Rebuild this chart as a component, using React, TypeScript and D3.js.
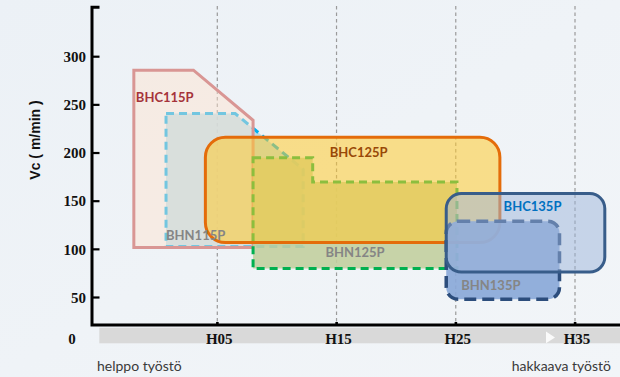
import React from 'react';
import * as d3 from 'd3';

const W = 620;
const H = 377;

// Axis ticks
const xTickValues = [5, 15, 25, 35];
const xTickLabels = ['H05', 'H15', 'H25', 'H35'];
const yTickValues = [50, 100, 150, 200, 250, 300];

// Grade regions: [hardness index, Vc m/min]
const bhn115p: [number, number][] = [[0.7, 241], [6.5, 241], [12.2, 183], [12.2, 103], [0.7, 103]];
const bhc115p: [number, number][] = [[-2, 286], [3, 286], [8, 234], [8, 102], [-2, 102]];
const bhn125p: [number, number][] = [[8, 195], [13, 195], [13, 170], [25.1, 170], [25.1, 80], [8, 80]];
const bhc125pX = [4, 28.7];
const bhc125pVc = [107, 216.5];
const bhn135pX = [24.2, 33.7];
const bhn135pVc = [48.2, 129.2];
const bhc135pX = [24.2, 37.5];
const bhc135pVc = [76.5, 157.9];

export default function App() {
  const x = d3.scaleLinear().domain([5, 35]).range([217.3, 575]);
  const y = d3.scaleLinear().domain([50, 300]).range([297.5, 56.7]);
  const line = d3.line<[number, number]>().x(d => x(d[0])).y(d => y(d[1])).curve(d3.curveLinearClosed);

  const axisX = 92;
  const axisY = 325;
  const axisTop = 7.3;

  const rect = (xs: number[], vs: number[]) => ({
    x: x(xs[0]), y: y(vs[1]), width: x(xs[1]) - x(xs[0]), height: y(vs[0]) - y(vs[1]),
  });
  const r125 = rect(bhc125pX, bhc125pVc);
  const rn135 = rect(bhn135pX, bhn135pVc);
  const r135 = rect(bhc135pX, bhc135pVc);

  const labelFont = { fontFamily: 'Lato, sans-serif', fontWeight: 700, fontSize: 13 } as const;
  const tickFont = { fontFamily: '"Liberation Serif", serif', fontWeight: 700, fontSize: 15 } as const;

  return (
    <svg width={W} height={H} style={{ position: 'absolute', left: 0, top: 0, display: 'block' }}>
      <defs>
        <linearGradient id="bg" x1="0" y1="0" x2="1" y2="1">
          <stop offset="0" stopColor="#ecf1f6" />
          <stop offset="1" stopColor="#f2f5f8" />
        </linearGradient>
      </defs>
      <rect x={0} y={0} width={W} height={H} fill="url(#bg)" />

      {/* vertical dashed gridlines */}
      {xTickValues.map(v => (
        <line key={'g' + v} x1={x(v)} x2={x(v)} y1={6} y2={axisY} stroke="#9a9a9a" strokeWidth={1.2} strokeDasharray="3.5,3" />
      ))}

      {/* BHN115P */}
      <path d={line(bhn115p)!} fill="#b0d8e8" fillOpacity={0.85} stroke="#00b0f0" strokeWidth={3} strokeDasharray="8,5" />
      {/* BHC115P */}
      <path d={line(bhc115p)!} fill="#ffe2cc" fillOpacity={0.45} stroke="#d99694" strokeWidth={3} />
      {/* BHN125P */}
      <path d={line(bhn125p)!} fill="#c2cf9f" fillOpacity={0.9} stroke="#00b050" strokeWidth={3} strokeDasharray="8,5" />
      {/* BHC125P */}
      <rect {...r125} rx={20} ry={20} fill="#ffcb30" fillOpacity={0.55} stroke="#e46c0a" strokeWidth={3} />
      {/* BHN135P */}
      <rect {...rn135} rx={12} ry={12} fill="#8aa8d8" fillOpacity={0.92} stroke="#2c4d7c" strokeWidth={3.5} strokeDasharray="12,6" />
      {/* BHC135P */}
      <rect {...r135} rx={15} ry={15} fill="#9cb3d9" fillOpacity={0.5} stroke="#385d8a" strokeWidth={3} />

      {/* region labels */}
      <text x={x(bhc115p[0][0]) + 2} y={y(bhc115p[0][1]) + 27} dy="0.35em" fill="#a5333a" {...labelFont}>BHC115P</text>
      <text x={x(bhn115p[0][0])} y={y(bhn115p[3][1]) - 11} dy="0.35em" fill="#858585" {...labelFont}>BHN115P</text>
      <text x={r125.x + r125.width / 2 + 6} y={r125.y + 15} dy="0.35em" textAnchor="middle" fill="#984807" {...labelFont}>BHC125P</text>
      <text x={(x(bhn125p[0][0]) + x(bhn125p[3][0])) / 2} y={y(bhn125p[4][1]) - 16} dy="0.35em" textAnchor="middle" fill="#858585" {...labelFont}>BHN125P</text>
      <text x={r135.x + r135.width / 2 + 7} y={r135.y + 13} dy="0.35em" textAnchor="middle" fill="#0070c0" {...labelFont}>BHC135P</text>
      <text x={rn135.x + 15} y={rn135.y + rn135.height - 14} dy="0.35em" fill="#858585" {...labelFont}>BHN135P</text>

      {/* bottom band */}
      <rect x={99.3} y={327.7} width={W - 99.3} height={15.6} fill="#d9d9d9" />
      <path d={`M${x(35) - 29},331.5 L${x(35) - 20},337.5 L${x(35) - 29},343.3 Z`} fill="#fafafa" />

      {/* axes */}
      <path d={`M${axisX + 7.5},${axisTop} H${axisX} V${axisY} H${W}`} fill="none" stroke="#000" strokeWidth={3} />
      {yTickValues.map(v => (
        <g key={'y' + v}>
          <line x1={axisX} x2={axisX + 7.5} y1={y(v)} y2={y(v)} stroke="#000" strokeWidth={2.2} />
          <text x={86} y={y(v)} dy="0.35em" textAnchor="end" fill="#111" {...tickFont}>{v}</text>
        </g>
      ))}
      {xTickValues.map((v, i) => (
        <g key={'x' + v}>
          <rect x={x(v) - 1.2} y={axisY - 3} width={2.6} height={3} fill="#000" />
          <text x={x(v) + 2} y={338.3} dy="0.35em" textAnchor="middle" fill="#111" {...tickFont}>{xTickLabels[i]}</text>
        </g>
      ))}
      <text x={72} y={338.3} dy="0.35em" textAnchor="middle" fill="#111" {...tickFont}>0</text>

      <text transform={`translate(35,140) rotate(-90)`} dy="0.35em" textAnchor="middle" fill="#111"
        style={{ fontFamily: '"Liberation Sans", Arial, sans-serif', fontWeight: 700, fontSize: 14 }}>Vc ( m/min )</text>

      <text x={97} y={366} dy="0.35em" fill="#3a3a3a" style={{ fontFamily: 'Lato, sans-serif', fontSize: 14 }}>helppo työstö</text>
      <text x={611} y={366} dy="0.35em" textAnchor="end" fill="#3a3a3a" style={{ fontFamily: 'Lato, sans-serif', fontSize: 14 }}>hakkaava työstö</text>
    </svg>
  );
}
